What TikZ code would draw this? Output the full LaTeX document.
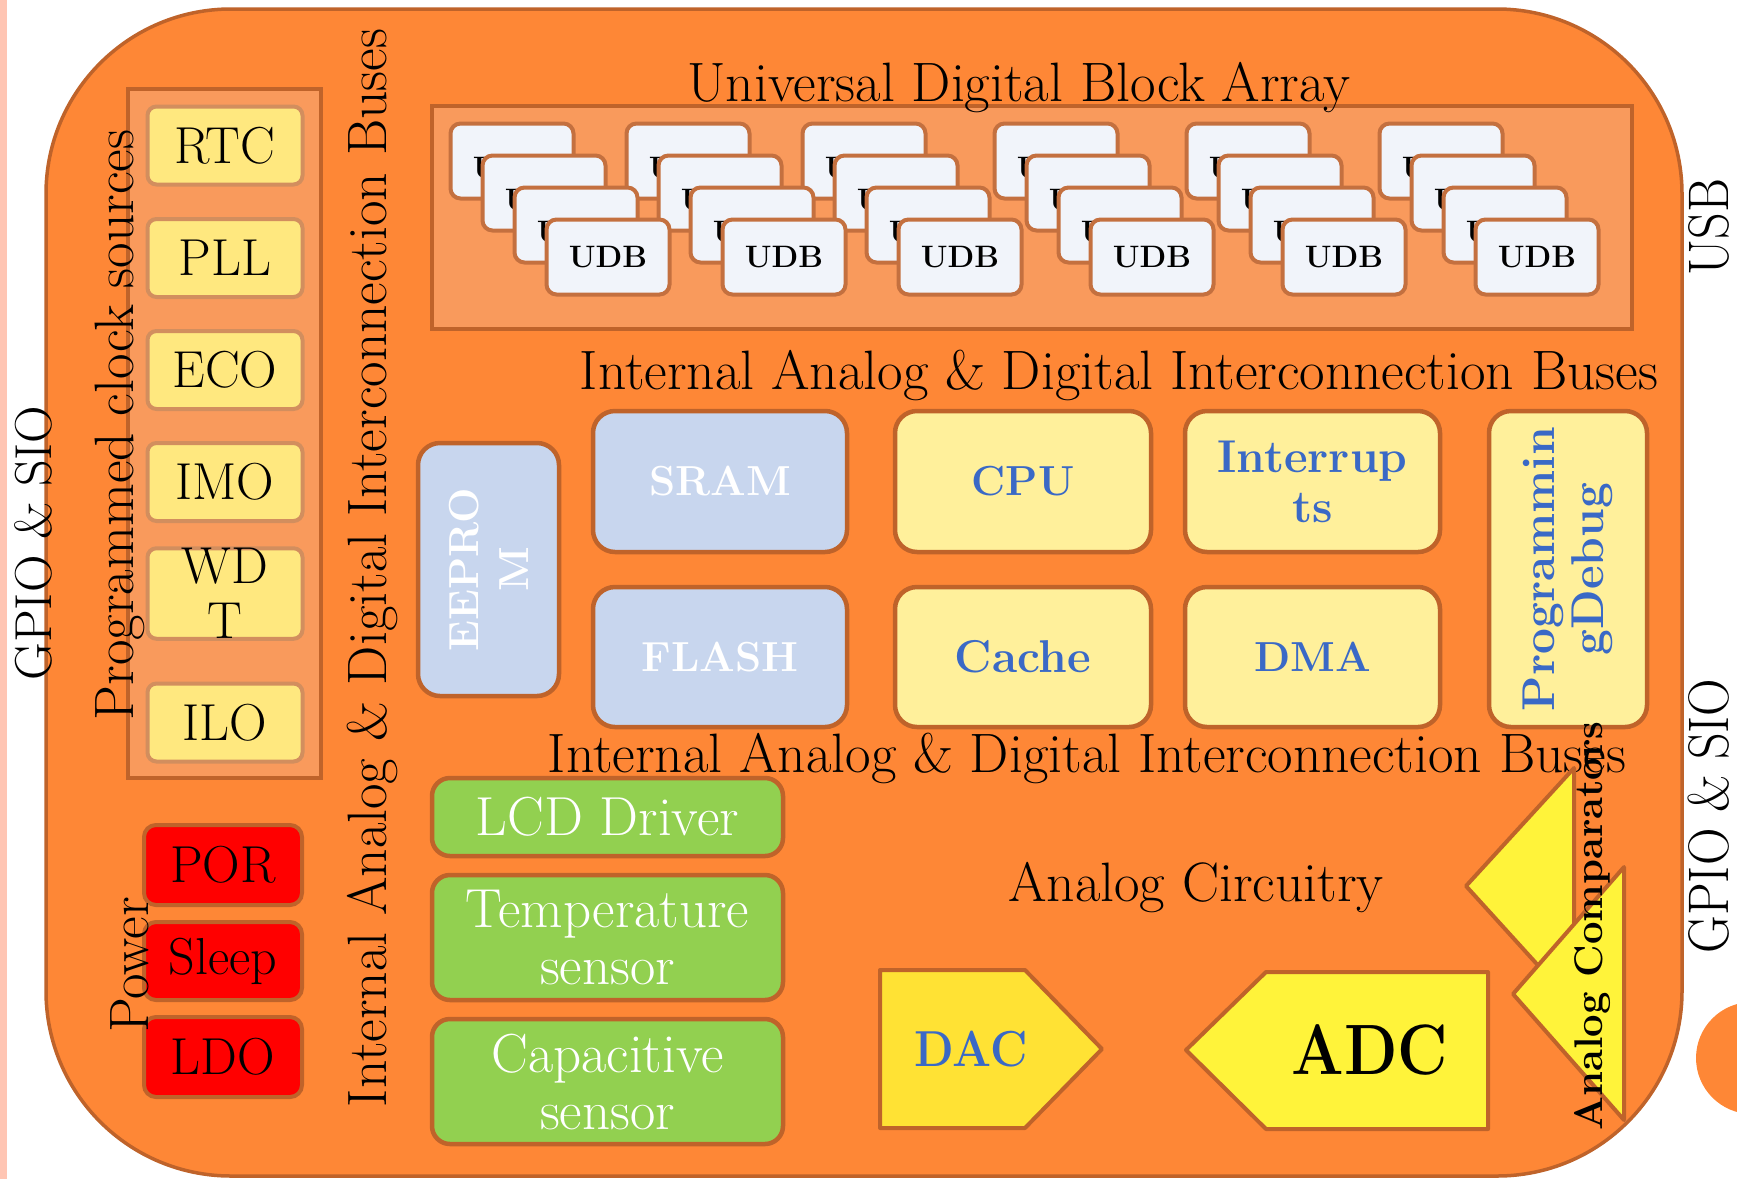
\documentclass[tikz,border=0pt]{standalone}
\usepackage{fontspec}
\usepackage{graphicx}
\usetikzlibrary{shapes.geometric}
\definecolor{mainor}{HTML}{FE8736}
\definecolor{mainbd}{HTML}{BF632A}
\definecolor{texor}{HTML}{F99A5C}
\definecolor{clky}{HTML}{FFE87F}
\definecolor{clkbd}{HTML}{D28E5E}
\definecolor{udbf}{HTML}{F1F4FA}
\definecolor{udbbd}{HTML}{C4703F}
\definecolor{memb}{HTML}{C8D6EE}
\definecolor{cpuy}{HTML}{FFF09B}
\definecolor{txtb}{HTML}{3A69C6}
\definecolor{grn}{HTML}{92D050}
\definecolor{dacy}{HTML}{FFE234}
\definecolor{adcy}{HTML}{FFF33A}
\definecolor{pinks}{HTML}{FFC5B3}
\newcommand{\fsz}[2]{\fontsize{#1}{#2}\selectfont}
\begin{document}
\begin{tikzpicture}[x=1pt,y=-1pt,
  every node/.style={inner sep=0pt, outer sep=0pt},
  lbl/.style={font=\fsz{55.5}{60}},
  sidelbl/.style={font=\fsz{52}{56}},
  clkbox/.style={draw=clkbd, line width=4, fill=clky, rounded corners=9, minimum width=155, minimum height=78, font=\fsz{52}{55}, align=center},
  pwrbox/.style={draw=mainbd, line width=4, fill=red, rounded corners=12, minimum width=158, font=\fsz{52}{55}},
  udbbox/.style={draw=udbbd, line width=4, fill=udbf, rounded corners=10, minimum width=123, minimum height=75, font=\bfseries\fsz{31}{33}},
  membox/.style={draw=mainbd, line width=4.5, fill=memb, rounded corners=22, text=white, font=\bfseries\fsz{42}{50}, align=center},
  corebox/.style={draw=mainbd, line width=4.5, fill=cpuy, rounded corners=22, text=txtb, font=\bfseries\fsz{42}{51}, align=center},
  widefont/.style={font=\bfseries\fsz{46}{50}},
  grnbox/.style={draw=mainbd, line width=4.5, fill=grn, rounded corners=18, text=white, font=\fsz{55}{57}, align=center, minimum width=351},
  anashape/.style={draw=mainbd, line width=4, line join=round},
  panel/.style={draw=mainbd, line width=4.5, fill=texor}
]
\useasboundingbox (0,0) rectangle (1737,1179);
\fill[pinks] (0,0) rectangle (7,1179);
% main chip outline
\draw[fill=mainor, draw=mainbd, line width=3.5, rounded corners=185] (46,9) rectangle (1682,1176);
% outside labels
\node[sidelbl, rotate=90] (gpioL) at (33,543) {GPIO \& SIO};
\node[sidelbl, rotate=90] (gpioR) at (1709,816) {\scalebox{1}[1.1]{GPIO \& SIO}};
\node[sidelbl, rotate=90] (usb) at (1709,227) {\scalebox{1}[1.1]{USB}};
\fill[mainor] (1752,1058) circle (56);
% clock sources
\node[panel, minimum width=193, minimum height=689] (clkcol) at (224.5,433.5) {};
\node[clkbox] (rtc) at (225,145.5) {RTC};
\node[clkbox] (pll) at (225,258) {PLL};
\node[clkbox] (eco) at (225,370) {ECO};
\node[clkbox] (imo) at (225,482) {IMO};
\node[clkbox] (wdt) at (225,593.5) {WD\\T};
\node[clkbox] (ilo) at (225,722.5) {ILO};
\node[lbl, rotate=90] (clksrc) at (120,425) {Programmed clock sources};
% power
\node[pwrbox, minimum height=80] (por) at (223,865) {POR};
\node[pwrbox, minimum height=78] (sleep) at (223,961) {Sleep};
\node[pwrbox, minimum height=80] (ldo) at (223,1057) {LDO};
\node[lbl, rotate=90] (power) at (130,965) {Power};
% vertical bus label
\node[lbl, rotate=90] (busv) at (372,568) {Internal Analog \& Digital Interconnection Buses};
% UDB array
\node[panel, minimum width=1200, minimum height=223] (udbarr) at (1032,217.5) {};
\node[lbl] (univ) at (1019,88) {Universal Digital Block Array};
\foreach \k in {3,2,1}{
  \foreach \cx [count=\g] in {608,784,960,1152,1344,1537}{
    \node[udbbox] (udb-\g-\k) at ({\cx-32*\k},{257-32*\k}) {\raisebox{-7pt}[\height][\depth]{UDB}};
  }
}
\foreach \cx [count=\g] in {608,784,960,1152,1344,1537}{
  \node[udbbox] (udb-\g-0) at (\cx,257) {UDB};
}
\node[lbl] (bus1) at (1119,375) {Internal Analog \& Digital Interconnection Buses};
% memories and core
\node[membox, rotate=90, minimum width=253, minimum height=141] (eeprom) at (488.5,569.5) {EEPRO\\M};
\node[membox, minimum width=254, minimum height=141] (sram) at (720,481.5) {SRAM};
\node[membox, minimum width=254, minimum height=140] (flash) at (720,657) {FLASH};
\node[corebox, minimum width=256, minimum height=141] (cpu) at (1023,481.5) {CPU};
\node[corebox, widefont, minimum width=256, minimum height=140] (cache) at (1023,657) {Cache};
\node[corebox, widefont, minimum width=255, minimum height=141] (intr) at (1312.5,481.5) {Interrup\\ts};
\node[corebox, minimum width=255, minimum height=140] (dma) at (1312.5,657) {DMA};
\node[corebox, widefont, font=\bfseries\fsz{46}{49}, rotate=90, minimum width=316, minimum height=158] (prog) at (1568,569) {Programmin\\gDebug};
\node[lbl] (bus2) at (1087,758) {Internal Analog \& Digital Interconnection Buses};
% analog peripherals
\node[grnbox, minimum height=78] (lcd) at (607.5,817) {LCD Driver};
\node[grnbox, minimum height=125] (temp) at (607.5,937.5) {Temperature\\sensor};
\node[grnbox, minimum height=125] (capsense) at (607.5,1081.5) {Capacitive\\sensor};
\node[lbl] (anacirc) at (1196,888) {Analog Circuitry};
% DAC / ADC
\draw[anashape, fill=dacy] (880,970) -- (1025,970) -- (1102,1049) -- (1025,1128) -- (880,1128) -- cycle;
\node[text=txtb, font=\bfseries\fsz{46}{48}] (dac) at (971,1049) {\scalebox{1}[1.1]{DAC}};
\draw[anashape, fill=adcy] (1488,972) -- (1266,972) -- (1186,1050) -- (1266,1129) -- (1488,1129) -- cycle;
\node[font=\bfseries\fsz{62}{66}] (adc) at (1370,1050) {\scalebox{1}[1.15]{ADC}};
% comparators
\draw[anashape, fill=adcy] (1574,768) -- (1466,886) -- (1574,1005) -- cycle;
\draw[anashape, fill=adcy] (1624,867) -- (1513,994) -- (1624,1120) -- cycle;
\node[rotate=90, font=\bfseries\fsz{40}{42}] (anacomp) at (1592,926) {Analog Comparators};
\end{tikzpicture}
\end{document}
